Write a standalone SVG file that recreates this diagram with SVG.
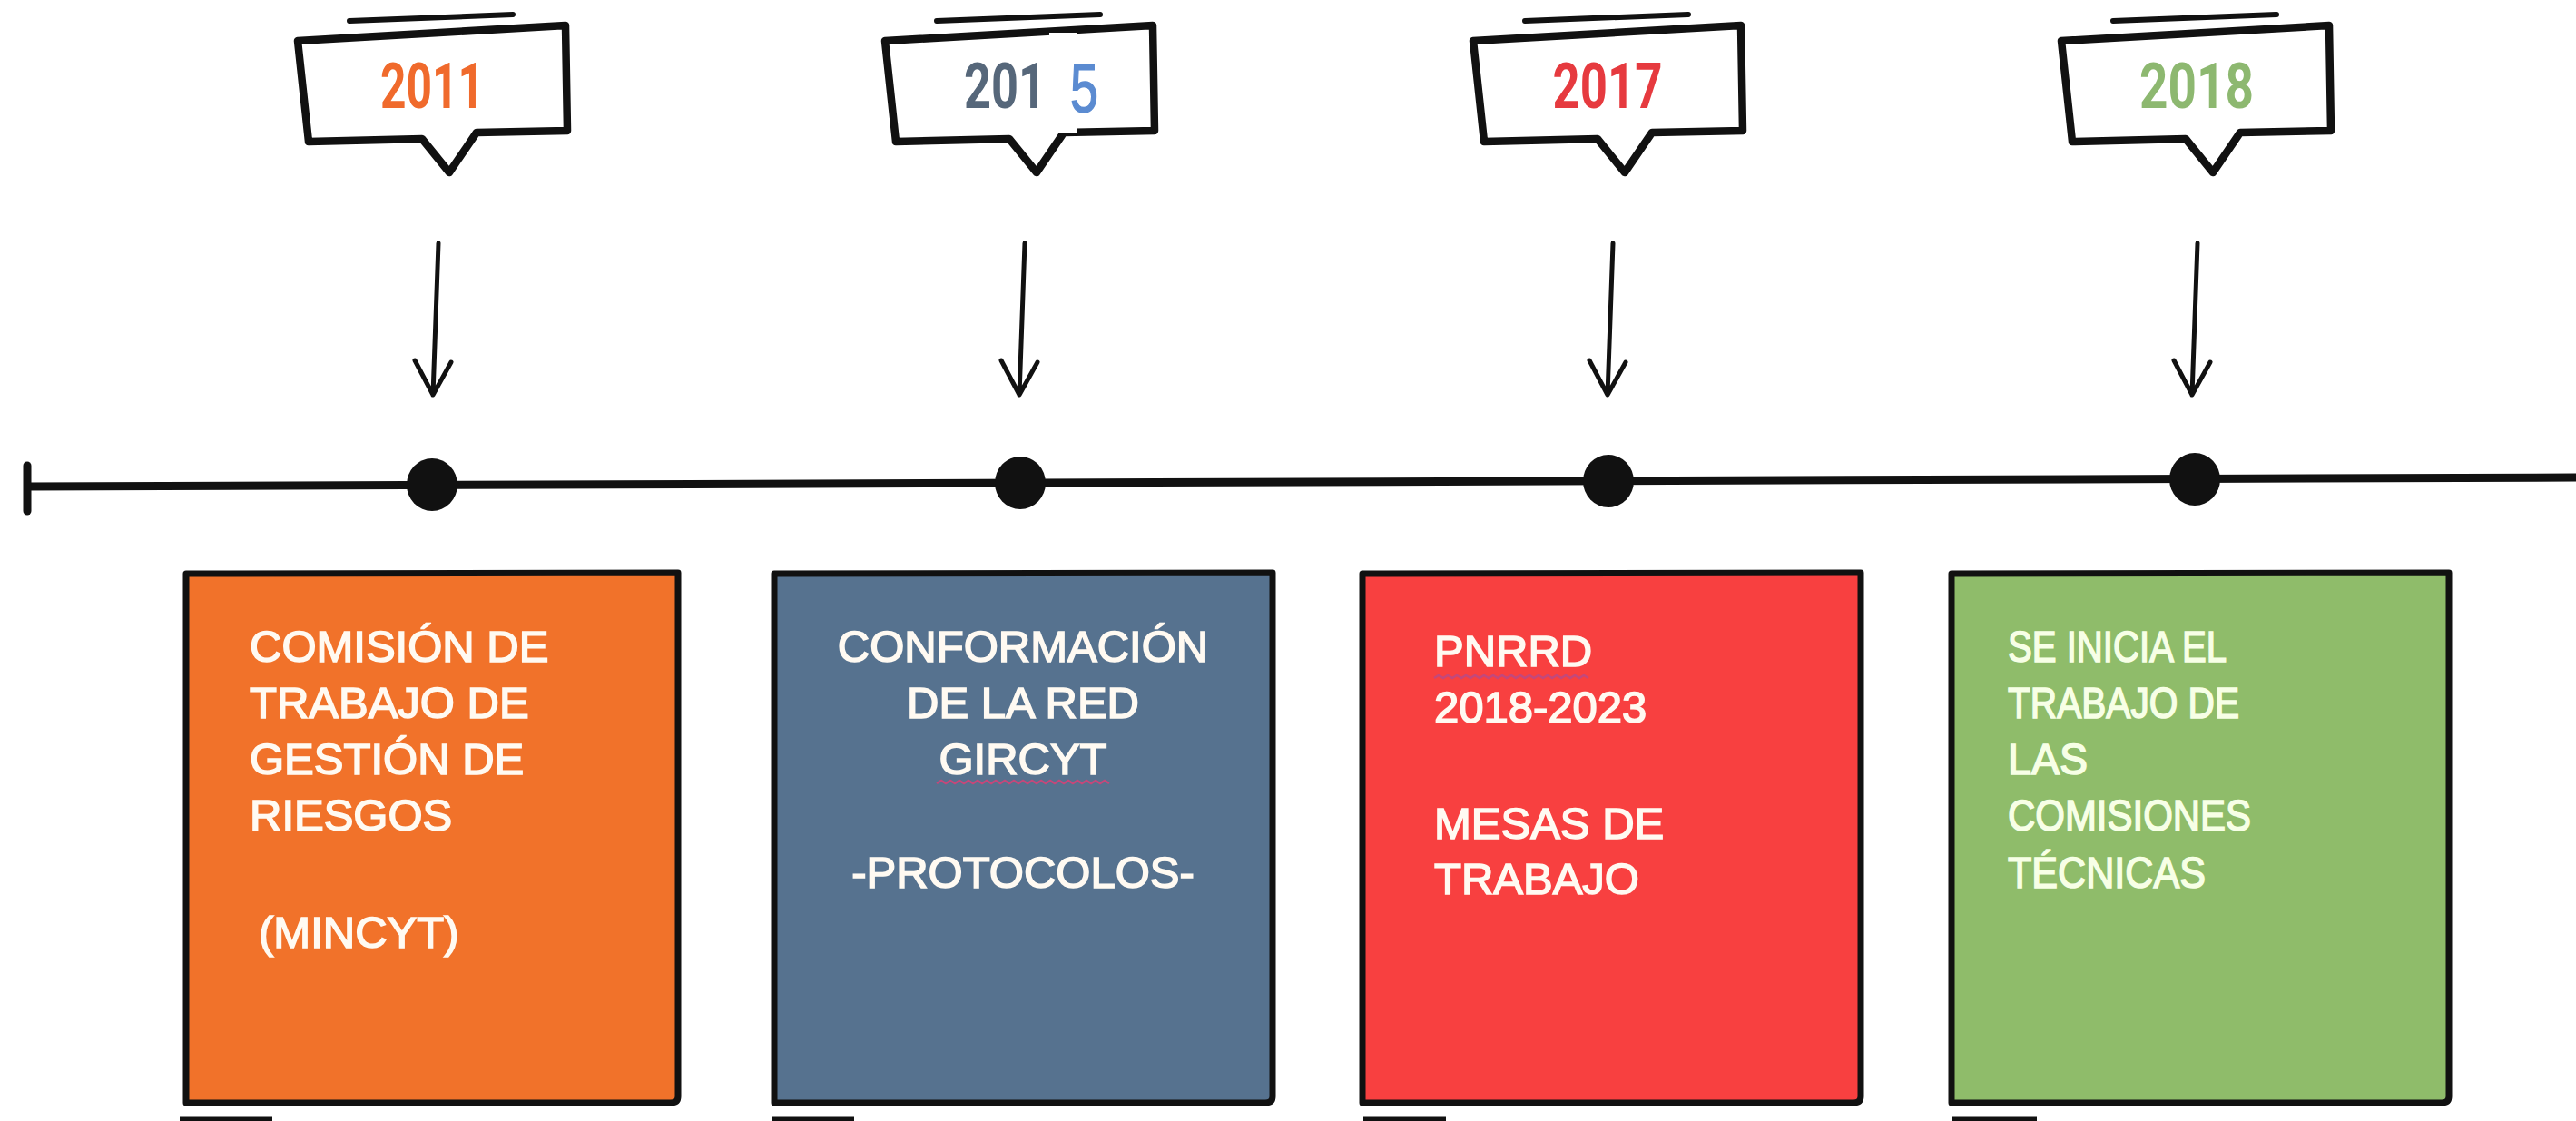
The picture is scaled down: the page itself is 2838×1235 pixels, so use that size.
<svg xmlns="http://www.w3.org/2000/svg" width="2838" height="1235" viewBox="0 0 2838 1235">
<style>
.bubble{fill:#fff;stroke:#111;stroke-width:8.5;stroke-linejoin:round}
.topline{stroke:#111;stroke-width:6;stroke-linecap:round;fill:none}
.year{font-family:Roboto,"Liberation Sans",sans-serif;font-weight:bold;font-size:70px;text-anchor:middle}
.box{stroke:#111;stroke-width:7;stroke-linejoin:round}
.txt{font-family:"Liberation Sans",Arial,sans-serif;font-size:49px;fill:#fffaf2;stroke:#fffaf2;stroke-width:1.6}
.arrow{stroke:#111;stroke-width:5;fill:none;stroke-linecap:round;stroke-linejoin:round}
.dot{fill:#111}
.wavy{fill:none;stroke:#c4487a;stroke-width:2.5}
.foot{stroke:#111;stroke-width:5}
</style>
<g id="connectors">
  <path d="M30,536 L2838,526" stroke="#111" stroke-width="9" fill="none"/>
  <path d="M30,513 L30,563" stroke="#111" stroke-width="9" stroke-linecap="round"/>
  <path class="arrow" d="M483,268 L477,435 M457,397 L477,435 L497,399"/>
  <path class="arrow" d="M1129,268 L1123,435 M1103,397 L1123,435 L1143,399"/>
  <path class="arrow" d="M1777,268 L1771,435 M1751,397 L1771,435 L1791,399"/>
  <path class="arrow" d="M2421,268 L2415,435 M2395,397 L2415,435 L2435,399"/>
  <ellipse class="dot" cx="476" cy="534" rx="28" ry="29"/>
  <ellipse class="dot" cx="1124" cy="532" rx="28" ry="29"/>
  <ellipse class="dot" cx="1772" cy="530" rx="28" ry="29"/>
  <ellipse class="dot" cx="2418" cy="528" rx="28" ry="29"/>
</g>
<g id="label-2011">
  <path class="topline" d="M385,23 L565,16"/>
  <path class="bubble" d="M328,45 L623,28 L625,144 L525,146 L495,190 L465,153 L340,156 Z"/>
  <text class="year" x="476" y="119" fill="#f06a2c" textLength="114" lengthAdjust="spacingAndGlyphs">2011</text>
</g>
<g id="label-2015">
  <path class="topline" d="M1032,23 L1212,16"/>
  <path class="bubble" d="M975,45 L1270,28 L1272,144 L1172,146 L1142,190 L1112,153 L987,156 Z"/>
  <text class="year" x="1062" y="119" fill="#56677a" style="text-anchor:start" textLength="90" lengthAdjust="spacingAndGlyphs">201</text>
  <rect x="1156" y="36" width="30" height="110" fill="#fff"/>
  <text x="1179" y="123" fill="#5b8bd1" font-family="'Liberation Sans',Arial,sans-serif" font-size="76" stroke="#5b8bd1" stroke-width="1.5" textLength="31" lengthAdjust="spacingAndGlyphs">5</text>
</g>
<g id="label-2017">
  <path class="topline" d="M1680,23 L1860,16"/>
  <path class="bubble" d="M1623,45 L1918,28 L1920,144 L1820,146 L1790,190 L1760,153 L1635,156 Z"/>
  <text class="year" x="1771" y="119" fill="#e63a3f" textLength="121" lengthAdjust="spacingAndGlyphs">2017</text>
</g>
<g id="label-2018">
  <path class="topline" d="M2328,23 L2508,16"/>
  <path class="bubble" d="M2271,45 L2566,28 L2568,144 L2468,146 L2438,190 L2408,153 L2283,156 Z"/>
  <text class="year" x="2420" y="119" fill="#8db870" textLength="126" lengthAdjust="spacingAndGlyphs">2018</text>
</g>
<g id="box-2011">
  <path class="box" fill="#f1722a" d="M205,632 L747,631 L747,1208 Q747,1215 739,1215 L205,1215 Z"/>
  <text class="txt"><tspan x="275" y="729">COMISIÓN DE</tspan><tspan x="275" y="791">TRABAJO DE</tspan><tspan x="275" y="853">GESTIÓN DE</tspan><tspan x="275" y="915">RIESGOS</tspan><tspan x="285" y="1044">(MINCYT)</tspan></text>
  <path class="foot" d="M198,1233 L300,1233"/>
</g>
<g id="box-2015">
  <path class="box" fill="#56728f" d="M853,632 L1402,631 L1402,1208 Q1402,1215 1394,1215 L853,1215 Z"/>
  <text class="txt" text-anchor="middle"><tspan x="1127" y="729">CONFORMACIÓN</tspan><tspan x="1127" y="791">DE LA RED</tspan><tspan x="1127" y="853">GIRCYT</tspan><tspan x="1127" y="978">-PROTOCOLOS-</tspan></text>
  <path class="wavy" d="M1032,863 l5,-3 l5,3 l5,-3 l5,3 l5,-3 l5,3 l5,-3 l5,3 l5,-3 l5,3 l5,-3 l5,3 l5,-3 l5,3 l5,-3 l5,3 l5,-3 l5,3 l5,-3 l5,3 l5,-3 l5,3 l5,-3 l5,3 l5,-3 l5,3 l5,-3 l5,3 l5,-3 l5,3 l5,-3 l5,3 l5,-3 l5,3 l5,-3 l5,3 l5,-3 l5,3"/>
  <path class="foot" d="M851,1233 L941,1233"/>
</g>
<g id="box-2017">
  <path class="box" fill="#f84040" d="M1501,632 L2050,631 L2050,1208 Q2050,1215 2042,1215 L1501,1215 Z"/>
  <text class="txt"><tspan x="1580" y="734">PNRRD</tspan><tspan x="1580" y="796">2018-2023</tspan><tspan x="1580" y="924">MESAS DE</tspan><tspan x="1580" y="985">TRABAJO</tspan></text>
  <path class="wavy" d="M1580,747 l5,-3 l5,3 l5,-3 l5,3 l5,-3 l5,3 l5,-3 l5,3 l5,-3 l5,3 l5,-3 l5,3 l5,-3 l5,3 l5,-3 l5,3 l5,-3 l5,3 l5,-3 l5,3 l5,-3 l5,3 l5,-3 l5,3 l5,-3 l5,3 l5,-3 l5,3 l5,-3 l5,3 l5,-3 l5,3 l5,-3 l5,3"/>
  <path class="foot" d="M1502,1233 L1593,1233"/>
</g>
<g id="box-2018">
  <path class="box" fill="#8fbc6a" d="M2150,632 L2698,631 L2698,1208 Q2698,1215 2690,1215 L2150,1215 Z"/>
  <text class="txt" style="fill:#f7ffe6;stroke:#f7ffe6"><tspan x="2212" y="729" textLength="241" lengthAdjust="spacingAndGlyphs">SE INICIA EL</tspan><tspan x="2212" y="791" textLength="255" lengthAdjust="spacingAndGlyphs">TRABAJO DE</tspan><tspan x="2212" y="853" textLength="88" lengthAdjust="spacingAndGlyphs">LAS</tspan><tspan x="2212" y="915" textLength="268" lengthAdjust="spacingAndGlyphs">COMISIONES</tspan><tspan x="2212" y="978" textLength="218" lengthAdjust="spacingAndGlyphs">TÉCNICAS</tspan></text>
  <path class="foot" d="M2150,1233 L2244,1233"/>
</g>
</svg>
